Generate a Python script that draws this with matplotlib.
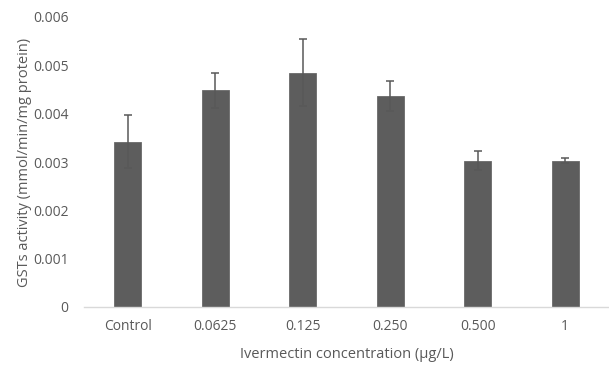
import matplotlib
matplotlib.use("Agg")
import matplotlib.pyplot as plt
from matplotlib.ticker import FuncFormatter

categories = ["Control", "0.0625", "0.125", "0.250", "0.500", "1"]
values = [0.00342, 0.00448, 0.00485, 0.00437, 0.00303, 0.00303]
errors = [0.00055, 0.00036, 0.00070, 0.00031, 0.00019, 0.00005]
yticks = [0, 0.001, 0.002, 0.003, 0.004, 0.005, 0.006]

plt.rcParams['font.family'] = ['Open Sans', 'DejaVu Sans']
text_color = "#595959"

fig = plt.figure(figsize=(6.09, 3.69), dpi=100)
ax = fig.add_axes([84/609, 1-307/369, 1-84/609, (307-17)/369])

x = range(len(categories))
ax.bar(x, values, width=0.31, color="#5d5d5d", edgecolor="#6a6a6a", linewidth=0.6, zorder=2)
ax.errorbar(x, values, yerr=errors, fmt="none", ecolor="#595959",
            elinewidth=1.1, capsize=3, capthick=1.1, zorder=3)

ax.set_xlim(-0.5, len(categories) - 0.5)
ax.set_ylim(0, 0.006)
ax.set_yticks(yticks)
ax.yaxis.set_major_formatter(FuncFormatter(lambda v, p: "0" if v == 0 else f"{v:.3f}"))
ax.set_xticks(list(x))
ax.set_xticklabels(categories)

for s in ["top", "right", "left"]:
    ax.spines[s].set_visible(False)
ax.spines["bottom"].set_color("#d9d9d9")
ax.spines["bottom"].set_linewidth(1.0)

ax.tick_params(axis="both", length=0, labelsize=10, colors=text_color)
ax.tick_params(axis="y", pad=11)
ax.tick_params(axis="x", pad=9)

ax.set_ylabel("GSTs activity (mmol/min/mg protein)", fontsize=10.5, color=text_color, labelpad=1)
ax.set_xlabel("Ivermectin concentration (μg/L)", fontsize=10.5, color=text_color, labelpad=9)

fig.savefig("out.png", dpi=100, facecolor="white")
